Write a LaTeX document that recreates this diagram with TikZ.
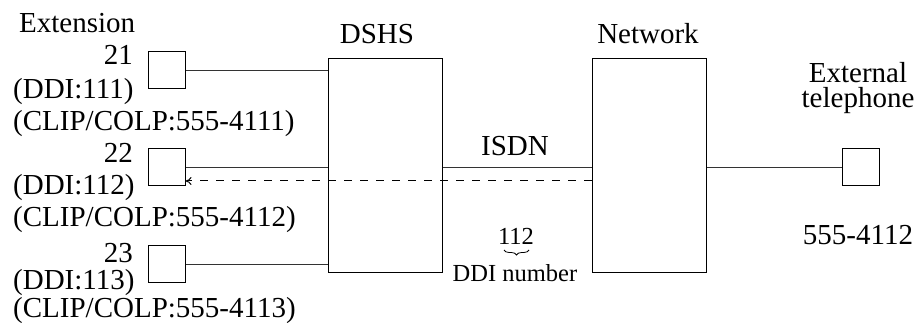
\documentclass[tikz,border=0pt]{standalone}
\usepackage{fontspec}
\setmainfont{Liberation Serif}
\usetikzlibrary{arrows.meta,decorations.pathreplacing}
\begin{document}
\begin{tikzpicture}[x=1pt,y=-1pt,
  txt/.style={font=\fontsize{29}{25}\selectfont, inner sep=0pt},
  smalltxt/.style={font=\fontsize{24.5}{28}\selectfont, inner sep=0pt},
  phone/.style={draw, line width=1pt, minimum width=37pt, minimum height=37pt, inner sep=0pt},
  unit/.style={draw, line width=1pt, minimum width=114pt, minimum height=214pt, inner sep=0pt},
  wire/.style={line width=1.2pt, black!80},
  dwire/.style={line width=1pt, dash pattern=on 8pt off 8pt, -{To[length=6pt,width=8pt]}}
]
\useasboundingbox (0,0) rectangle (919,323);
% boxes
\node[unit] (dshs) at (385,166) {};
\node[unit] (net) at (649,166) {};
\node[phone] (e21) at (166.5,70.5) {};
\node[phone] (e22) at (166.5,167.5) {};
\node[phone] (e23) at (166.5,264.5) {};
\node[phone] (ext) at (860.5,167.5) {};
% connectors
\draw[wire] (e21.east) -- (dshs.west |- e21.east);
\draw[wire] (e22.east) -- (dshs.west |- e22.east);
\draw[wire] (e23.east) -- (dshs.west |- e23.east);
\draw[wire] (dshs.east |- e22.east) -- (net.west |- e22.east);
\draw[wire] (net.east |- ext.west) -- (ext.west);
\coordinate (dl) at (0,181);
\draw[dwire] (net.west |- dl) -- (e22.east |- dl);
% labels
\node[txt, anchor=base west] (lext) at (19,33) {Extension};
\node[txt, anchor=base east] (l21) at (133,65) {21};
\node[txt, anchor=base west] (d21) at (13,99) {(DDI:111)};
\node[txt, anchor=base west] (c21) at (13,131) {(CLIP/COLP:555-4111)};
\node[txt, anchor=base east] (l22) at (133,163) {22};
\node[txt, anchor=base west] (d22) at (13,195) {(DDI:112)};
\node[txt, anchor=base west] (c22) at (13,227) {(CLIP/COLP:555-4112)};
\node[txt, anchor=base east] (l23) at (133,263) {23};
\node[txt, anchor=base west] (d23) at (13,290) {(DDI:113)};
\node[txt, anchor=base west] (c23) at (13,317) {(CLIP/COLP:555-4113)};
\node[txt, anchor=base] (ldshs) at (377,44) {DSHS};
\node[txt, anchor=base] (lnet) at (648,44) {Network};
\node[txt, anchor=base] (lisdn) at (515,156) {ISDN};
\node[txt, anchor=base, align=center] (lext1) at (858,108) {External\\telephone};
\node[txt, anchor=base] (lnum) at (858,245) {555-4112};
\node[smalltxt, anchor=base] (n112) at (516,245) {112};
\node[smalltxt, anchor=base] (ddin) at (515,282) {DDI number};
\draw[line width=0.8pt, decorate, decoration={brace, mirror, amplitude=5pt}] (504,250) -- (529,250);
\end{tikzpicture}
\end{document}
